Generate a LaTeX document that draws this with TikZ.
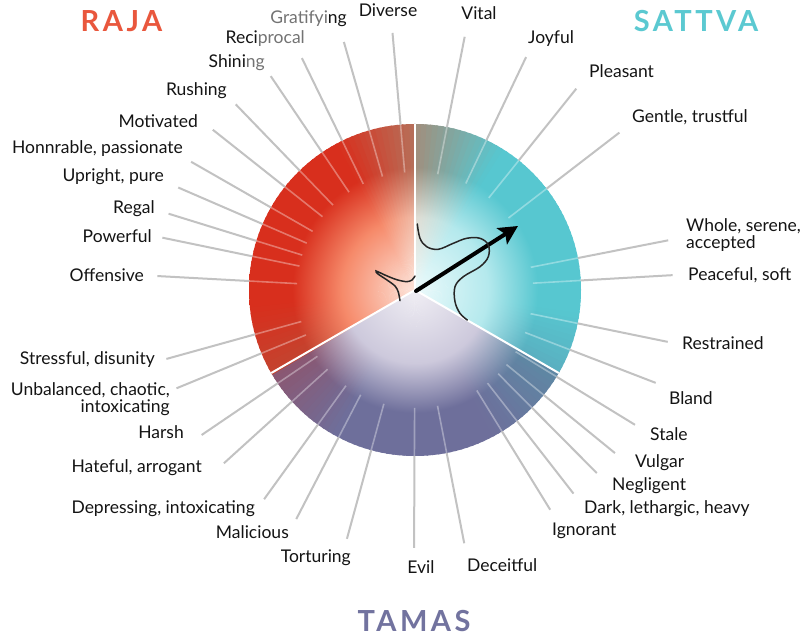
\documentclass[tikz,border=0pt]{standalone}
\usepackage{fontspec}
\setmainfont{Lato}
\newfontfamily\gunafont[LetterSpace=12]{Lato}
\usetikzlibrary{calc,arrows.meta}
\definecolor{RajaRed}{HTML}{D82F1D}
\definecolor{RajaMid}{HTML}{F68A6A}
\definecolor{RajaIn}{HTML}{FDE5DB}
\definecolor{SattvaTeal}{HTML}{57C7D0}
\definecolor{SattvaMid}{HTML}{B4E9ED}
\definecolor{SattvaIn}{HTML}{ECFAFB}
\definecolor{TamasSlate}{HTML}{6E6F9B}
\definecolor{TamasMid}{HTML}{CDC9DC}
\definecolor{TamasIn}{HTML}{F0EEF4}
\definecolor{TopRaja}{HTML}{B6705A}
\definecolor{TopRajaMid}{HTML}{F0BCA8}
\definecolor{TopSattva}{HTML}{A28E7C}
\definecolor{TopSattvaMid}{HTML}{E2DCD2}
\definecolor{LRSattva}{HTML}{5AAFC0}
\definecolor{LRTamas}{HTML}{5E88A4}
\definecolor{LLRaja}{HTML}{C4432F}
\definecolor{LLTamas}{HTML}{8C5670}
\definecolor{RajaTitle}{HTML}{E9573D}
\definecolor{SattvaTitle}{HTML}{5BC9D1}
\definecolor{TamasTitle}{HTML}{72739F}
\colorlet{wout}{white}
\colorlet{wmid}{white}
\colorlet{win}{white}
\pgfdeclareradialshading[wout,wmid,win]{wedgeshade}{\pgfpointorigin}{color(0bp)=(win); color(11bp)=(wmid); color(18.5bp)=(wout); color(50bp)=(wout)}
\tikzset{
  lbl/.style={font=\fontsize{17.5}{16.5}\selectfont, inner sep=0pt, text height=13pt, text depth=2pt, text=black!92},
  gunaname/.style={font=\fontsize{29}{29}\selectfont\gunafont\bfseries, inner sep=0pt},
  spoke/.style={draw=black!24, line width=2pt},
  spokein/.style={draw=white, opacity=0.35, line width=1.6pt},
  divider/.style={draw=white, line width=2pt},
  thread/.style={draw=black!85, line width=1.5pt, line cap=round}
}

\begin{document}
\begin{tikzpicture}[x=1pt,y=1pt]
  \useasboundingbox (0,0) rectangle (804,637);
  \fill[white] (0,0) rectangle (804,637);
  \coordinate (c) at (415,347);

  % wheel, wedge by wedge
  \foreach \sa/\sb/\oa/\ob/\ma/\mb/\ia/\ib in {
    -150/-118/LLTamas/TamasSlate/TamasMid/TamasMid/TamasIn/TamasIn,
    -118/-62/TamasSlate/TamasSlate/TamasMid/TamasMid/TamasIn/TamasIn,
    -62/-30/TamasSlate/LRTamas/TamasMid/TamasMid/TamasIn/TamasIn,
    -30/-8/LRSattva/SattvaTeal/SattvaMid/SattvaMid/SattvaIn/SattvaIn,
    -8/58/SattvaTeal/SattvaTeal/SattvaMid/SattvaMid/SattvaIn/SattvaIn,
    58/90/SattvaTeal/TopSattva/SattvaMid/TopSattvaMid/SattvaIn/SattvaIn,
    90/118/TopRaja/RajaRed/TopRajaMid/RajaMid/RajaIn/RajaIn,
    118/186/RajaRed/RajaRed/RajaMid/RajaMid/RajaIn/RajaIn,
    186/210/RajaRed/LLRaja/RajaMid/RajaMid/RajaIn/RajaIn}{
    \pgfmathtruncatemacro\nn{round((\sb-\sa)/2)}
    \foreach \k in {1,...,\nn}{
      \pgfmathsetmacro\wa{\sa+(\k-1)*(\sb-\sa)/\nn}
      \pgfmathsetmacro\wb{\sa+\k*(\sb-\sa)/\nn+0.7}
      \pgfmathtruncatemacro\pc{round(100*(\k-0.5)/\nn)}
      \colorlet{wout}{\ob!\pc!\oa}
      \colorlet{wmid}{\mb!\pc!\ma}
      \colorlet{win}{\ib!\pc!\ia}
      \begin{scope}
        \clip (c) -- ($(c)+(\wa:170)$) arc[start angle=\wa, end angle=\wb, radius=170] -- cycle;
        \shade[shading=wedgeshade] (c) circle[radius=166];
      \end{scope}
    }
  }

  % spokes
  \foreach \ang in {95,106,116,124,134,141.6,150.2,156.6,162.8,168.3,176.9,
    195.5,202.4,214.2,222.2,234.2,242.6,254.7,269.8,281,
    -58.4,-52.1,-45.2,-39.2,-31.5,-21.1,-11.6,3.3,11.1,37.6,51.3,64.5,78.9}{
    \path (c) ++(\ang:118) coordinate (sa) (c) ++(\ang:166) coordinate (sb) (c) ++(\ang:258) coordinate (sc);
    \draw[spokein] (sa) -- (sb);
    \draw[spoke] (sb) -- (sc);
  }

  % dividers
  \path (c) ++(90:166) coordinate (dtop) (c) ++(210:166) coordinate (dleft) (c) ++(-30:166) coordinate (dright);
  \draw[divider] (c) -- (dtop);
  \draw[divider] (c) -- (dleft);
  \draw[divider] (c) -- (dright);

  % arrow and threads
  \coordinate (tail) at (416,346);
  \coordinate (tip) at (518,411);
  \draw[line width=4pt, line cap=round, -{Stealth[length=19pt, width=19pt, inset=4pt]}] (tail) -- (tip);
  \draw[thread] plot[smooth, tension=0.6] coordinates {(417.3,413) (420,398.7) (426.7,390.3) (438.3,387.7) (453.3,393.7) (466.7,398.7) (480,398.7) (488.3,392) (488.3,380.3) (480,370.3) (463.3,360.3) (455,350.3) (455,335.3) (460,323.7) (467.3,317)};
  \draw[thread] plot[smooth, tension=0.5] coordinates {(415,361) (412,357) (406.7,355.3) (396.7,357.3) (386,361.5) (376,366) (378,363) (387,357) (395,351) (398.3,345) (400,336.3)};

  % raja labels
  \node[lbl, anchor=south] (diverse) at (388,618) {Diverse};
  \node[lbl, anchor=east] (gratifying) at (347,619) {\textcolor{black!55}{Gratifyi}ng};
  \node[lbl, anchor=east] (reciprocal) at (305,599) {Reci\textcolor{black!55}{procal}};
  \node[lbl, anchor=east] (shining) at (265,575) {Shini\textcolor{black!55}{ng}};
  \node[lbl, anchor=east] (rushing) at (227,547) {Rushing};
  \node[lbl, anchor=east] (motivated) at (198,515) {Motivated};
  \node[lbl, anchor=east] (honnrable) at (183,489) {Honnrable, passionate};
  \node[lbl, anchor=east] (upright) at (164,461) {Upright, pure};
  \node[lbl, anchor=east] (regal) at (155,429) {Regal};
  \node[lbl, anchor=east] (powerful) at (152,400) {Powerful};
  \node[lbl, anchor=east] (offensive) at (144,361) {Offensive};

  % sattva labels
  \node[lbl, anchor=south] (vital) at (479,615) {Vital};
  \node[lbl, anchor=west] (joyful) at (528,599) {Joyful};
  \node[lbl, anchor=west] (pleasant) at (589,565) {Pleasant};
  \node[lbl, anchor=west] (gentle) at (632,520) {Gentle, trustful};
  \node[lbl, anchor=west, align=left, text height=, text depth=] (whole) at (686,402) {Whole, serene,\\accepted};
  \node[lbl, anchor=west] (peaceful) at (688,362) {Peaceful, soft};
  \node[lbl, anchor=west] (restrained) at (682,293) {Restrained};

  % tamas labels
  \node[lbl, anchor=west] (bland) at (669,238) {Bland};
  \node[lbl, anchor=west] (stale) at (650,202) {Stale};
  \node[lbl, anchor=west] (vulgar) at (635,175) {Vulgar};
  \node[lbl, anchor=west] (negligent) at (612,152) {Negligent};
  \node[lbl, anchor=west] (dark) at (584,129) {Dark, lethargic, heavy};
  \node[lbl, anchor=west] (ignorant) at (552,107) {Ignorant};
  \node[lbl, anchor=west] (deceitful) at (467,71) {Deceitful};
  \node[lbl] (evil) at (421,69) {Evil};
  \node[lbl, anchor=east] (torturing) at (351,80) {Torturing};
  \node[lbl, anchor=east] (malicious) at (289,104) {Malicious};
  \node[lbl, anchor=east] (depressing) at (255,129) {Depressing, intoxicating};
  \node[lbl, anchor=east] (hateful) at (202,170) {Hateful, arrogant};
  \node[lbl, anchor=east] (harsh) at (184,204) {Harsh};
  \node[lbl, anchor=east, align=right, text height=, text depth=] (unbalanced) at (170,238) {Unbalanced, chaotic,\\intoxicating};
  \node[lbl, anchor=east] (stressful) at (155,278) {Stressful, disunity};

  % titles
  \node[gunaname, text=RajaTitle] (raja) at (121.5,615.5) {RAJA};
  \node[gunaname, text=SattvaTitle] (sattva) at (696,616) {SATTVA};
  \node[gunaname, text=TamasTitle] (tamas) at (414,16) {TAMAS};
\end{tikzpicture}
\end{document}
